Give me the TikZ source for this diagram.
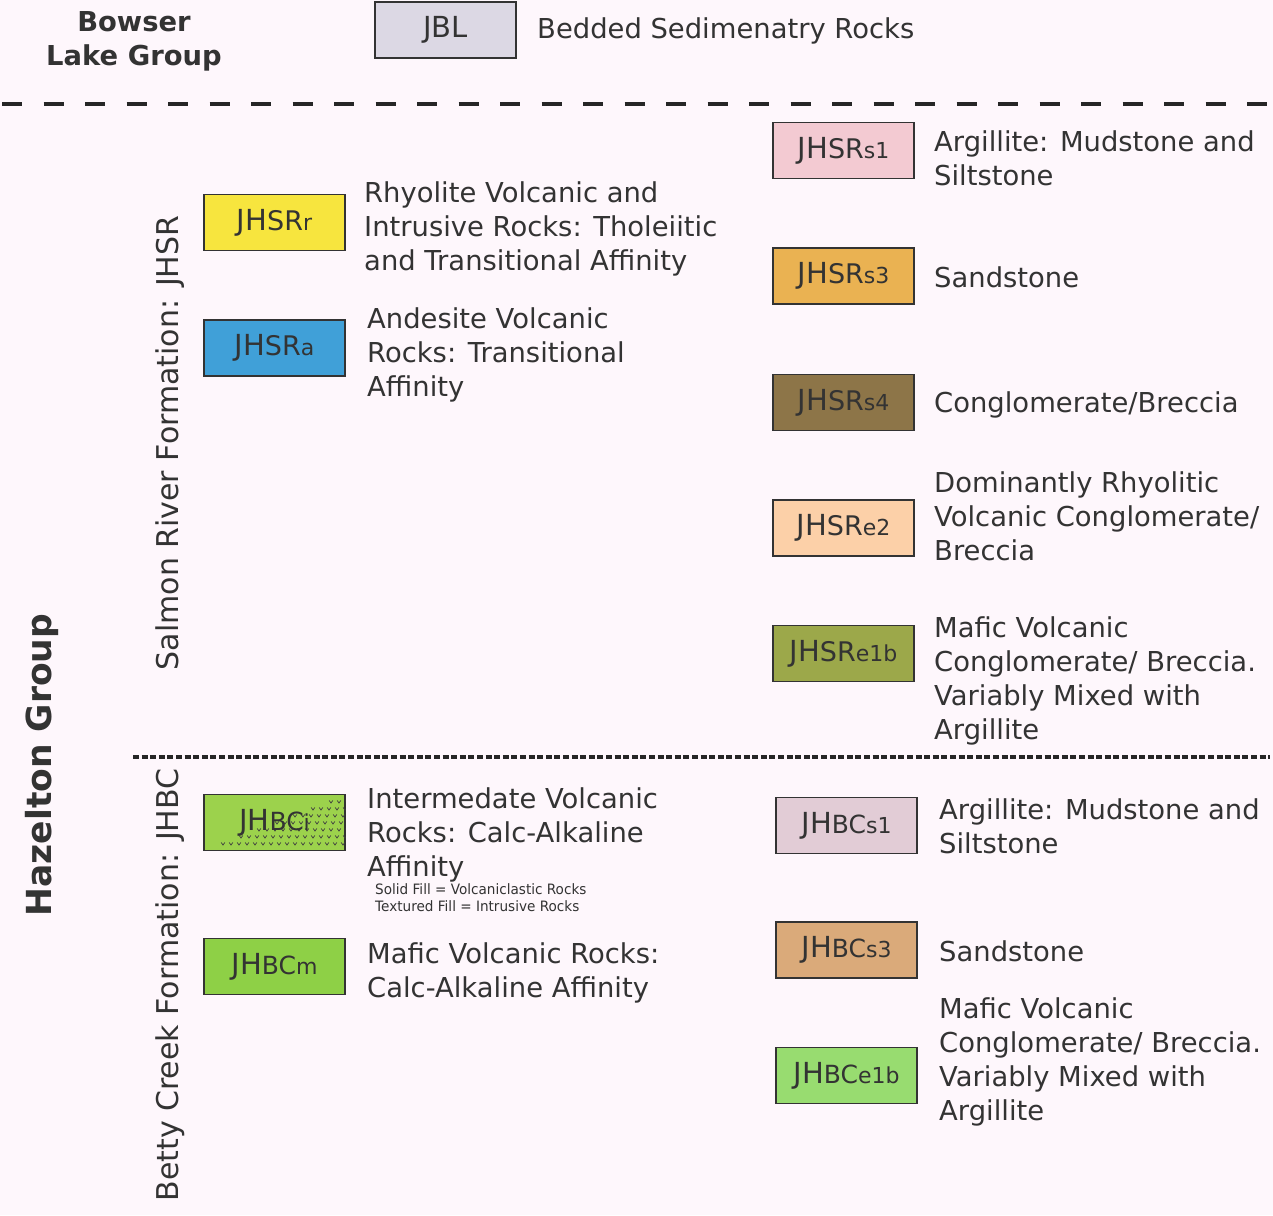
\documentclass[tikz,border=0pt]{standalone}
\usepackage{fontspec}
\setmainfont{DejaVu Sans}
\begin{document}
\begin{tikzpicture}[x=1pt,y=-1pt,
  box/.style={draw=black!80, line width=1.3pt, minimum width=141, minimum height=56, inner sep=0pt, text=black!80, font=\fontsize{29}{32}\selectfont},
  desc/.style={anchor=west, align=left, inner sep=0pt, text=black!80, font=\fontsize{27.4}{34}\selectfont},
  grp/.style={text=black!80, font=\bfseries\fontsize{27.4}{34}\selectfont, align=center},
  form/.style={rotate=90, text=black!80, font=\fontsize{30}{34}\selectfont, inner sep=0pt}]
\fill[white!97!magenta] (0,0) rectangle (1273,1215);
\useasboundingbox (0,0) rectangle (1273,1215);
% Bowser Lake
\node[grp] (bow) at (134,41) {Bowser\\Lake Group};
\node[box, fill={rgb,255:red,220;green,216;blue,228}] (jbl) at (445.5,30) {JBL};
\node[desc] (jbld) at (537,31) {Bedded Sedimenatry Rocks};
\coordinate (d1a) at (2,104); \coordinate (d1b) at (1273,104);
\draw[line width=4pt, black!85, dash pattern=on 20pt off 21.5pt] (d1a) -- (d1b);
% group labels
\node[rotate=90, text=black!80, font=\bfseries\fontsize{34.5}{40}\selectfont] (haz) at (42,765) {Hazelton Group};
\node[form] (sr) at (170,443) {Salmon River Formation: JHSR};
\node[form] (bc) at (170,985) {Betty Creek Formation: JHBC};
\coordinate (d2a) at (133,757); \coordinate (d2b) at (1270,757);
\draw[line width=4pt, black!85, dash pattern=on 6pt off 2.6pt] (d2a) -- (d2b);
% left column, Salmon River
\node[box, fill={rgb,255:red,247;green,229;blue,62}] (r) at (274.5,222.5) {JH{\fontsize{27}{30}\selectfont SR}{\fontsize{22}{26}\selectfont r}};
\node[desc] (rd) at (364,228.5) {Rhyolite Volcanic and\\Intrusive Rocks: Tholeiitic\\and Transitional Affinity};
\node[box, fill={rgb,255:red,64;green,160;blue,216}] (a) at (274.5,348) {JH{\fontsize{27}{30}\selectfont SR}{\fontsize{22}{26}\selectfont a}};
\node[desc] (ad) at (367,355) {Andesite Volcanic\\Rocks: Transitional\\Affinity};
% right column, Salmon River
\node[box, fill={rgb,255:red,243;green,202;blue,210}] (s1) at (843.5,150.5) {JH{\fontsize{27}{30}\selectfont SR}{\fontsize{22}{26}\selectfont s1}};
\node[desc] (s1d) at (934,158.5) {Argillite: Mudstone and\\Siltstone};
\node[box, fill={rgb,255:red,234;green,178;blue,82}] (s3) at (843.5,276) {JH{\fontsize{27}{30}\selectfont SR}{\fontsize{22}{26}\selectfont s3}};
\node[desc] (s3d) at (934,277.5) {Sandstone};
\node[box, fill={rgb,255:red,141;green,117;blue,72}] (s4) at (843.5,402.5) {JH{\fontsize{27}{30}\selectfont SR}{\fontsize{22}{26}\selectfont s4}};
\node[desc] (s4d) at (934,404.5) {Conglomerate/Breccia};
\node[box, fill={rgb,255:red,252;green,208;blue,168}] (e2) at (843.5,528) {JH{\fontsize{27}{30}\selectfont SR}{\fontsize{22}{26}\selectfont e2}};
\node[desc] (e2d) at (934,516.5) {Dominantly Rhyolitic\\Volcanic Conglomerate/\\Breccia};
\node[box, fill={rgb,255:red,156;green,168;blue,74}] (e1b) at (843.5,653.5) {JH{\fontsize{27}{30}\selectfont SR}{\fontsize{22}{26}\selectfont e1b}};
\node[desc] (e1bd) at (934,680.5) {Mafic Volcanic\\Conglomerate/ Breccia.\\Variably Mixed with\\Argillite};
% left column, Betty Creek
\node[box, fill={rgb,255:red,156;green,210;blue,76}] (ci) at (274.5,822.5) {};
\begin{scope}
\clip (ci.south west) rectangle (ci.north east);
\foreach \yy [count=\k] in {844,837,830,823,816,809,802} {
  \pgfmathsetmacro{\xs}{205+\k*18}
  \foreach \j in {0,...,18} {
    \pgfmathsetmacro{\xx}{\xs+8*\j}
    \draw[black!75, line width=0.7pt] (\xx-1.8,\yy-1.5) -- (\xx,\yy+1) -- (\xx+1.8,\yy-1.5);
  }
}
\end{scope}
\node[text=black!80, font=\fontsize{29}{32}\selectfont] (cil) at (ci) {JH{\fontsize{25}{28}\selectfont BC}{\fontsize{22}{26}\selectfont i}};
\node[desc] (cid) at (367,834.5) {Intermedate Volcanic\\Rocks: Calc-Alkaline\\Affinity};
\node[anchor=north west, align=left, inner sep=0pt, text=black!80, font=\fontsize{14.3}{17}\selectfont\addfontfeature{FakeStretch=0.95}] (note) at (375,883) {Solid Fill = Volcaniclastic Rocks\\Textured Fill = Intrusive Rocks};
\node[box, fill={rgb,255:red,142;green,208;blue,70}] (cm) at (274.5,966.5) {JH{\fontsize{25}{28}\selectfont BC}{\fontsize{22}{26}\selectfont m}};
\node[desc] (cmd) at (367,973) {Mafic Volcanic Rocks:\\Calc-Alkaline Affinity};
% right column, Betty Creek
\node[box, fill={rgb,255:red,226;green,204;blue,214}] (b1) at (846.5,825.5) {JH{\fontsize{25}{28}\selectfont BC}{\fontsize{22}{26}\selectfont s1}};
\node[desc] (b1d) at (939,826) {Argillite: Mudstone and\\Siltstone};
\node[box, fill={rgb,255:red,218;green,170;blue,122}] (b3) at (846.5,950) {JH{\fontsize{25}{28}\selectfont BC}{\fontsize{22}{26}\selectfont s3}};
\node[desc] (b3d) at (939,951.5) {Sandstone};
\node[box, fill={rgb,255:red,152;green,220;blue,112}] (b1b) at (846.5,1075.5) {JH{\fontsize{25}{28}\selectfont BC}{\fontsize{22}{26}\selectfont e1b}};
\node[desc] (b1bd) at (939,1062) {Mafic Volcanic\\Conglomerate/ Breccia.\\Variably Mixed with\\Argillite};
\end{tikzpicture}
\end{document}
